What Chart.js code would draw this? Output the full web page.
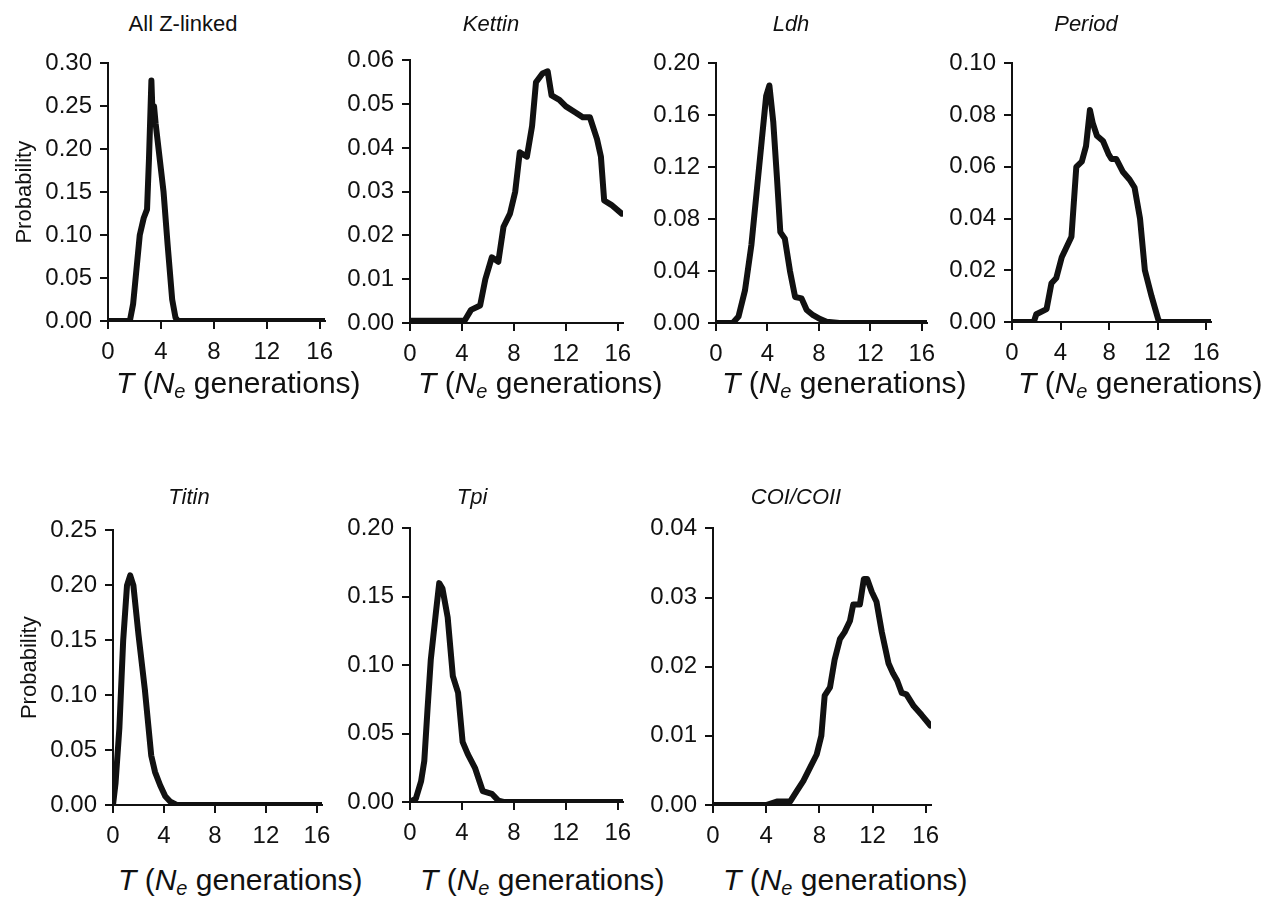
<!DOCTYPE html>
<html>
<head>
<meta charset="utf-8">
<script src="https://cdn.jsdelivr.net/npm/chart.js@4.4.1/dist/chart.umd.min.js"></script>
<style>
  body { margin: 0; background: #fff; }
  #page { position: relative; width: 1271px; height: 901px; overflow: hidden; font-family: "Liberation Sans", Arial, sans-serif; color: #111; }
  canvas { position: absolute; }
  .ptitle { position: absolute; font-size: 22px; transform: translate(-50%, -50%); white-space: nowrap; }
  .xtitle { position: absolute; font-size: 30px; line-height: 30px; white-space: nowrap; }
  .xtitle sub { font-size: 20px; vertical-align: -5px; line-height: 0; }
</style>
</head>
<body>
<div id="page"></div>
<script>
// x values (T, in Ne generations) and probabilities
let zlinkedT = [0, 1.65, 1.9, 2.15, 2.4, 2.7, 2.95, 3.1, 3.28, 3.38, 3.48, 3.6, 3.9, 4.2, 4.5, 4.85, 5.1, 5.3, 16.4];
let zlinkedP = [0, 0, 0.02, 0.06, 0.10, 0.12, 0.13, 0.19, 0.28, 0.235, 0.25, 0.23, 0.19, 0.15, 0.09, 0.025, 0.004, 0, 0];

let kettinT = [0, 4.2, 4.7, 5.4, 5.8, 6.3, 6.8, 7.2, 7.7, 8.1, 8.45, 9.0, 9.4, 9.7, 10.2, 10.6, 10.9, 11.5, 12.0, 12.8, 13.3, 13.85, 14.4, 14.7, 14.95, 15.5, 16.3];
let kettinP = [0.0005, 0.0005, 0.003, 0.004, 0.010, 0.015, 0.014, 0.022, 0.025, 0.030, 0.039, 0.038, 0.045, 0.055, 0.057, 0.0575, 0.052, 0.051, 0.0495, 0.048, 0.047, 0.047, 0.042, 0.038, 0.028, 0.027, 0.025];

let ldhT = [0, 1.3, 1.75, 2.25, 2.75, 3.15, 3.55, 3.9, 4.15, 4.45, 4.75, 5.0, 5.35, 5.75, 6.15, 6.65, 7.05, 7.55, 8.1, 8.6, 9.6, 16.4];
let ldhP = [0, 0, 0.005, 0.025, 0.06, 0.10, 0.14, 0.175, 0.183, 0.155, 0.11, 0.07, 0.065, 0.04, 0.02, 0.019, 0.01, 0.006, 0.003, 0.001, 0, 0];

let periodT = [0, 1.8, 2.0, 2.85, 3.25, 3.65, 4.1, 4.5, 4.9, 5.3, 5.75, 6.1, 6.42, 6.65, 7.0, 7.5, 7.95, 8.2, 8.6, 9.15, 9.7, 10.1, 10.55, 10.95, 11.5, 12.05, 12.2, 16.4];
let periodP = [0, 0, 0.003, 0.005, 0.015, 0.017, 0.025, 0.029, 0.033, 0.060, 0.062, 0.068, 0.082, 0.077, 0.072, 0.070, 0.065, 0.063, 0.063, 0.058, 0.055, 0.052, 0.040, 0.020, 0.010, 0.001, 0, 0];

let titinT = [0, 0.2, 0.5, 0.8, 1.1, 1.35, 1.6, 2.0, 2.5, 3.0, 3.3, 3.7, 4.1, 4.5, 5.0, 16.4];
let titinP = [0, 0.02, 0.07, 0.15, 0.20, 0.209, 0.20, 0.155, 0.105, 0.045, 0.03, 0.018, 0.008, 0.003, 0, 0];

let tpiT = [0, 0.45, 0.85, 1.1, 1.35, 1.6, 2.0, 2.25, 2.5, 2.9, 3.3, 3.7, 4.05, 4.45, 5.0, 5.6, 6.3, 6.8, 7.2, 16.4];
let tpiP = [0, 0.0025, 0.015, 0.03, 0.068, 0.104, 0.139, 0.16, 0.156, 0.135, 0.092, 0.08, 0.044, 0.035, 0.025, 0.008, 0.006, 0.001, 0, 0];

let coiT = [0, 4.0, 4.8, 5.8, 6.3, 6.8, 7.3, 7.8, 8.15, 8.4, 8.8, 9.15, 9.55, 9.9, 10.3, 10.55, 11.05, 11.35, 11.6, 11.95, 12.3, 12.7, 13.2, 13.55, 13.85, 14.2, 14.55, 15.1, 15.7, 16.35];
let coiP = [0, 0, 0.0005, 0.0005, 0.002, 0.0035, 0.0054, 0.0073, 0.010, 0.0158, 0.017, 0.021, 0.024, 0.025, 0.0266, 0.029, 0.029, 0.0327, 0.0327, 0.0308, 0.0294, 0.025, 0.0205, 0.019, 0.018, 0.0162, 0.016, 0.0143, 0.013, 0.0115];

let xTicks = [0, 4, 8, 12, 16];

// one entry per panel: data, y range, and where the plot area sits on the page
let panels = [
    { name: "All Z-linked", italic: false, t: zlinkedT, p: zlinkedP, yMax: 0.30, yStep: 0.05, box: [108, 57, 325, 321], titleAt: [183, 24], xTitleAt: [116, 368], yTitle: true },
    { name: "Kettin", italic: true, t: kettinT, p: kettinP, yMax: 0.06, yStep: 0.01, box: [410, 54, 623, 323], titleAt: [491, 24], xTitleAt: [418, 368] },
    { name: "Ldh", italic: true, t: ldhT, p: ldhP, yMax: 0.20, yStep: 0.04, box: [716, 57, 927, 323], titleAt: [791, 24], xTitleAt: [722, 368] },
    { name: "Period", italic: true, t: periodT, p: periodP, yMax: 0.10, yStep: 0.02, box: [1012, 57, 1211, 322], titleAt: [1086, 24], xTitleAt: [1018, 368] },
    { name: "Titin", italic: true, t: titinT, p: titinP, yMax: 0.25, yStep: 0.05, box: [113, 524, 322, 805], titleAt: [189, 497], xTitleAt: [118, 865], yTitle: true },
    { name: "Tpi", italic: true, t: tpiT, p: tpiP, yMax: 0.20, yStep: 0.05, box: [410, 522, 623, 802], titleAt: [472, 497], xTitleAt: [420, 865] },
    { name: "COI/COII", italic: true, t: coiT, p: coiP, yMax: 0.04, yStep: 0.01, box: [713, 522, 931, 805], titleAt: [796, 497], xTitleAt: [723, 865] }
];

Chart.defaults.font.family = "'Liberation Sans', Arial, sans-serif";
Chart.defaults.color = "#111";

let page = document.getElementById("page");
let Y_WIDTH = 100;
let X_HEIGHT = 48;
let PAD_TOP = 16;
let PAD_RIGHT = 28;

function drawPanel(panel) {
    "use strict";

    let left = panel.box[0], top = panel.box[1], right = panel.box[2], bottom = panel.box[3];

    let canvas = document.createElement("canvas");
    canvas.width = Y_WIDTH + (right - left) + PAD_RIGHT;
    canvas.height = PAD_TOP + (bottom - top) + X_HEIGHT;
    canvas.style.left = (left - Y_WIDTH) + "px";
    canvas.style.top = (top - PAD_TOP) + "px";
    page.appendChild(canvas);

    let points = [];
    for (let i = 0; i < panel.t.length; i++) {
        points.push({ x: panel.t[i], y: panel.p[i] });
    }

    new Chart(canvas, {
        "type": "line",
        "data": {
            "datasets": [{
                "data": points,
                "borderColor": "#111",
                "borderWidth": 6,
                "borderJoinStyle": "round",
                "borderCapStyle": "round",
                "pointRadius": 0,
                "tension": 0,
                "fill": false
            }]
        },
        "options": {
            responsive: false,
            animation: false,
            layout: { padding: { top: PAD_TOP, right: PAD_RIGHT, left: 0, bottom: 0 } },
            plugins: { legend: { display: false }, tooltip: { enabled: false } },
            scales: {
                x: {
                    type: "linear",
                    min: 0,
                    max: 16.4,
                    afterFit: function (scale) { scale.height = X_HEIGHT; },
                    afterBuildTicks: function (scale) { scale.ticks = xTicks.map(v => ({ value: v })); },
                    ticks: { font: { size: 24 }, color: "#111", padding: 9, maxRotation: 0 },
                    grid: { drawOnChartArea: false, color: "#111", lineWidth: 2, tickLength: 8 },
                    border: { color: "#111", width: 2 }
                },
                y: {
                    min: 0,
                    max: panel.yMax,
                    afterFit: function (scale) { scale.width = Y_WIDTH; },
                    ticks: {
                        stepSize: panel.yStep,
                        font: { size: 24 },
                        color: "#111",
                        padding: 8,
                        callback: v => v.toFixed(2)
                    },
                    grid: { drawOnChartArea: false, color: "#111", lineWidth: 2, tickLength: 8 },
                    border: { color: "#111", width: 2 },
                    title: {
                        display: !!panel.yTitle,
                        text: "Probability",
                        font: { size: 22 },
                        color: "#111",
                        padding: { top: 4, bottom: 0 }
                    }
                }
            }
        }
    });

    let title = document.createElement("div");
    title.className = "ptitle";
    title.style.left = panel.titleAt[0] + "px";
    title.style.top = panel.titleAt[1] + "px";
    title.style.fontStyle = panel.italic ? "italic" : "normal";
    title.textContent = panel.name;
    page.appendChild(title);

    let xTitle = document.createElement("div");
    xTitle.className = "xtitle";
    xTitle.style.left = panel.xTitleAt[0] + "px";
    xTitle.style.top = panel.xTitleAt[1] + "px";
    xTitle.innerHTML = "<i>T</i> (<i>N<sub>e</sub></i> generations)";
    page.appendChild(xTitle);
}

panels.forEach(drawPanel);
</script>
</body>
</html>
